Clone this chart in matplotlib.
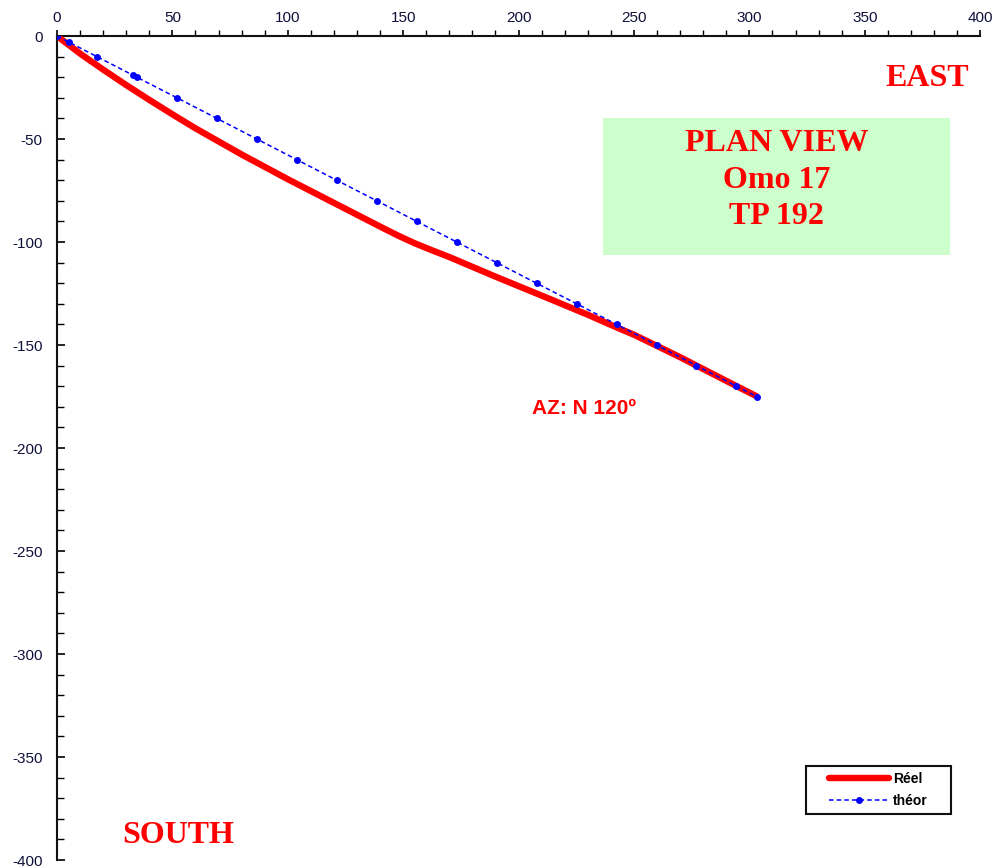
import matplotlib
matplotlib.use("Agg")
import matplotlib.pyplot as plt
from matplotlib.patches import Rectangle
from matplotlib.ticker import MultipleLocator

# Measured well path (East, North offsets in m)
reel_x = [0, 10, 20, 30, 40, 50, 60, 80, 100, 120, 140, 148, 155, 162, 170, 190, 210, 230,
          243, 250, 270, 290, 303]
reel_y = [0, -8.5, -16.3, -23.8, -31, -38, -44.8, -57.5, -69.5, -81, -92.5, -97, -100.6,
          -103.8, -107.3, -116.8, -126, -135.3, -141.7, -145, -155.9, -167.4, -174.8]

# Planned (theoretical) path, azimuth N120
theor_x = [0, 5.2, 17.3, 32.9, 34.6, 52.0, 69.3, 86.6, 103.9, 121.2, 138.6, 155.9, 173.2,
           190.5, 207.8, 225.2, 242.5, 259.8, 277.1, 294.4, 303.1]
theor_y = [0, -3, -10, -19, -20, -30, -40, -50, -60, -70, -80, -90, -100,
           -110, -120, -130, -140, -150, -160, -170, -175]

x_ticks = [0, 50, 100, 150, 200, 250, 300, 350, 400]
y_ticks = [0, -50, -100, -150, -200, -250, -300, -350, -400]

title_lines = ["PLAN VIEW", "Omo 17", "TP 192"]
azimuth_label = "AZ: N 120º"

fig = plt.figure(figsize=(9.98, 8.68), dpi=100)
ax = fig.add_axes([0.0571, 0.0092, 0.925, 0.9493])

ax.plot(reel_x, reel_y, color="#ff0000", lw=4.6, solid_capstyle="round",
        solid_joinstyle="round", label="Réel", zorder=3)
ax.plot(theor_x, theor_y, color="#0000ff", lw=1.1, ls=(0, (3, 2)), marker="o", ms=5,
        markeredgewidth=0, label="théor", zorder=4)

ax.set_xlim(0, 400)
ax.set_ylim(-400, 0)
ax.xaxis.set_minor_locator(MultipleLocator(10))
ax.yaxis.set_minor_locator(MultipleLocator(10))
ax.set_xticks(x_ticks)
ax.set_yticks(y_ticks)
ax.set_xticklabels([str(v) for v in x_ticks])
ax.set_yticklabels([str(v) for v in y_ticks])

ax.xaxis.tick_top()
ax.xaxis.set_label_position("top")
for s in ("right", "bottom"):
    ax.spines[s].set_visible(False)
for s in ("top", "left"):
    ax.spines[s].set_linewidth(1.5)
    ax.spines[s].set_color("#111111")

ax.tick_params(axis="x", which="major", direction="out", length=4, width=1.2, pad=4,
               labelsize=11, labelcolor="#10103a")
ax.tick_params(axis="x", which="minor", direction="out", length=4, width=1.0)
ax.tick_params(axis="y", which="major", direction="in", length=6, width=1.2, pad=10.5,
               labelsize=11, labelcolor="#10103a")
ax.tick_params(axis="y", which="minor", direction="in", length=5, width=1.0)
for lab in ax.get_xticklabels() + ax.get_yticklabels():
    lab.set_family("Liberation Sans")

# Title box
bx0, by0, bw, bh = 236.6, -106.5, 150.4, 66.5
ax.add_patch(Rectangle((bx0, by0), bw, bh, facecolor="#ccffcc", edgecolor="none", zorder=1))
cx = bx0 + bw / 2
for txt, ty in zip(title_lines, [-52.0, -70.0, -87.5]):
    ax.text(cx, ty, txt, ha="center", va="center", color="#ff0000", fontsize=23,
            fontweight="bold", family="Liberation Serif", zorder=2)

ax.text(377, -20.6, "EAST", ha="center", va="center", color="#ff0000", fontsize=23,
        fontweight="bold", family="Liberation Serif")
ax.text(52.4, -388, "SOUTH", ha="center", va="center", color="#ff0000", fontsize=23,
        fontweight="bold", family="Liberation Serif")
ax.text(228.4, -180.8, azimuth_label, ha="center", va="center", color="#ff0000",
        fontsize=15, fontweight="bold", family="Liberation Sans")

# Legend with a wide rectangular frame
ax.add_patch(Rectangle((0.8115, 0.0558), 0.1571, 0.0583, transform=ax.transAxes,
                       facecolor="white", edgecolor="#111111", lw=1.5, zorder=5))
leg = ax.legend(loc="center", bbox_to_anchor=(0.890, 0.085), frameon=False,
                handlelength=4.3, handletextpad=0.3, borderpad=0.0, labelspacing=0.55,
                prop={"family": "Liberation Sans", "weight": "bold", "size": 10})
leg.set_zorder(6)

fig.savefig("out.png", dpi=100)
